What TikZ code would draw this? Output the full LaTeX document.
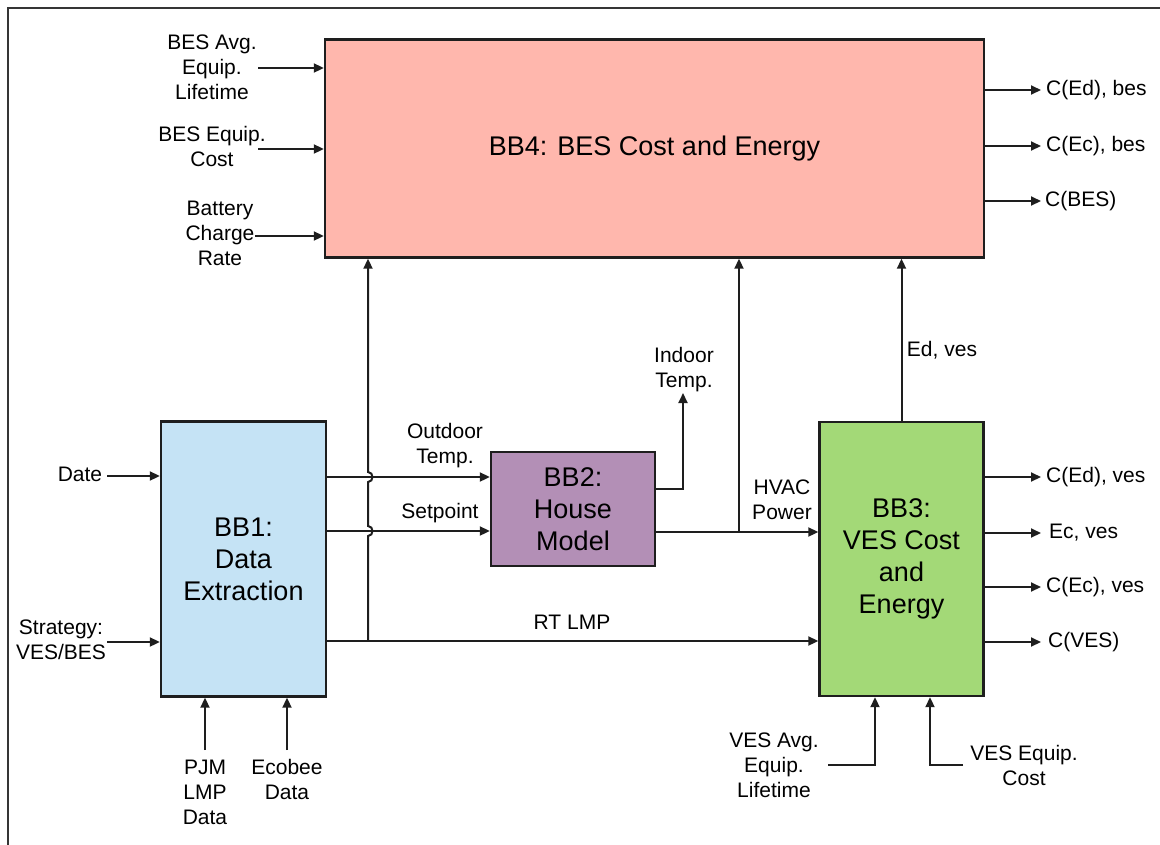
\documentclass[tikz,border=0pt]{standalone}
\usepackage{fontspec}
\setmainfont{Liberation Sans}
\usetikzlibrary{arrows.meta}
\definecolor{pinkbox}{RGB}{255,183,173}
\definecolor{bluebox}{RGB}{197,227,245}
\definecolor{purplebox}{RGB}{179,143,182}
\definecolor{greenbox}{RGB}{163,217,119}
\definecolor{edge}{RGB}{30,30,30}
\begin{document}
\begin{tikzpicture}[x=1pt,y=-1pt,
  blk/.style={draw=edge, line width=2.4pt, inner sep=0pt, font=\fontsize{27}{32}\selectfont, align=center},
  lbl/.style={font=\fontsize{21}{25}\selectfont, align=center, inner sep=0pt},
  olbl/.style={font=\fontsize{21}{25}\selectfont, anchor=west, inner sep=0pt},
  ln/.style={draw=edge, line width=2pt},
  arr/.style={ln, -{Triangle[length=10pt,width=9pt]}}]
\useasboundingbox (0,0) rectangle (1160,844);
\draw[edge!90, line width=1.6pt] (8,850) -- (8,8) -- (1166,8);

% blocks
\node[blk, fill=pinkbox, minimum width=659pt, minimum height=218pt] (bb4) at (654.5,148.5) {BB4: BES Cost and Energy};
\node[blk, fill=bluebox, minimum width=165pt, minimum height=275pt] (bb1) at (243.5,559) {BB1:\\Data\\Extraction};
\node[blk, fill=purplebox, minimum width=164pt, minimum height=114pt] (bb2) at (573,509) {BB2:\\House\\Model};
\node[blk, fill=greenbox, minimum width=164pt, minimum height=274pt] (bb3) at (901.5,559) {BB3:\\VES Cost\\and\\Energy};

% BB4 inputs
\node[lbl] (l41) at (212,67) {BES Avg.\\Equip.\\Lifetime};
\node[lbl] (l42) at (212,146) {BES Equip.\\Cost};
\node[lbl] (l43) at (220,233) {Battery\\Charge\\Rate};
\coordinate (i41) at (258,68);
\coordinate (i42) at (258,149);
\coordinate (i43) at (255,236);
\draw[arr] (i41) -- (i41 -| bb4.west);
\draw[arr] (i42) -- (i42 -| bb4.west);
\draw[arr] (i43) -- (i43 -| bb4.west);

% BB4 outputs
\coordinate (o41) at (1041,90);
\coordinate (o42) at (1041,146);
\coordinate (o43) at (1041,201);
\draw[arr] (o41 -| bb4.east) -- (o41);
\draw[arr] (o42 -| bb4.east) -- (o42);
\draw[arr] (o43 -| bb4.east) -- (o43);
\node[olbl] (t41) at (1046,90) {C(Ed), bes};
\node[olbl] (t42) at (1046,146) {C(Ec), bes};
\node[olbl] (t43) at (1045,201) {C(BES)};

% BB1 inputs
\node[lbl] (ldate) at (80,474) {Date};
\node[lbl] (lstrat) at (61,640) {Strategy:\\VES/BES};
\coordinate (i11) at (107,476);
\coordinate (i12) at (107,642);
\draw[arr] (i11) -- (i11 -| bb1.west);
\draw[arr] (i12) -- (i12 -| bb1.west);
\coordinate (i13) at (205,750);
\coordinate (i14) at (287,750);
\draw[arr] (i13) -- (i13 |- bb1.south);
\draw[arr] (i14) -- (i14 |- bb1.south);
\node[lbl] (lpjm) at (205,792) {PJM\\LMP\\Data};
\node[lbl] (leco) at (287,779) {Ecobee\\Data};

% BB1 -> BB2
\coordinate (yo) at (0,477);
\coordinate (ys) at (0,531);
\draw[arr] (bb1.east |- yo) -- (bb2.west |- yo);
\draw[arr] (bb1.east |- ys) -- (bb2.west |- ys);
\node[lbl] (lout) at (445,446) {Outdoor\\Temp.};
\node[lbl] (lset) at (440,513) {Setpoint};

% RT LMP
\coordinate (j1) at (368,641);
\draw[arr] (bb1.east |- j1) -- (bb3.west |- j1);
\node[lbl] (lrt) at (572,622) {RT LMP};
\draw[arr] (j1) -- ++(0,-105) .. controls +(6,0) and +(6,0) .. ++(0,-10) -- ++(0,-44) .. controls +(6,0) and +(6,0) .. ++(0,-10) -- (j1 |- bb4.south);

% BB2 outputs
\coordinate (yi) at (0,489);
\coordinate (ti) at (683,489);
\coordinate (ti2) at (683,393);
\draw[arr] (bb2.east |- yi) -- (ti) -- (ti2);
\node[lbl] (lin) at (684,370) {Indoor\\Temp.};
\coordinate (j2) at (739,532);
\draw[arr] (bb2.east |- j2) -- (bb3.west |- j2);
\draw[arr] (j2) -- (j2 |- bb4.south);
\node[lbl] (lhv) at (782,500) {HVAC\\Power};

% BB3 -> BB4
\draw[arr] (bb3.north) -- (bb3.north |- bb4.south);
\node[lbl] (led) at (942,350) {Ed, ves};

% BB3 outputs
\coordinate (o31) at (1041,477);
\coordinate (o32) at (1041,533);
\coordinate (o33) at (1041,587);
\coordinate (o34) at (1041,642);
\draw[arr] (o31 -| bb3.east) -- (o31);
\draw[arr] (o32 -| bb3.east) -- (o32);
\draw[arr] (o33 -| bb3.east) -- (o33);
\draw[arr] (o34 -| bb3.east) -- (o34);
\node[olbl] (t31) at (1046,477) {C(Ed), ves};
\node[olbl] (t32) at (1049,533) {Ec, ves};
\node[olbl] (t33) at (1046,587) {C(Ec), ves};
\node[olbl] (t34) at (1048,642) {C(VES)};

% BB3 bottom inputs
\coordinate (v1) at (828,765);
\coordinate (v1k) at (875,765);
\coordinate (v2) at (963,765);
\coordinate (v2k) at (930,765);
\draw[arr] (v1) -- (v1k) -- (v1k |- bb3.south);
\draw[arr] (v2) -- (v2k) -- (v2k |- bb3.south);
\node[lbl] (lva) at (774,765) {VES Avg.\\Equip.\\Lifetime};
\node[lbl] (lvc) at (1024,765) {VES Equip.\\Cost};
\end{tikzpicture}
\end{document}
